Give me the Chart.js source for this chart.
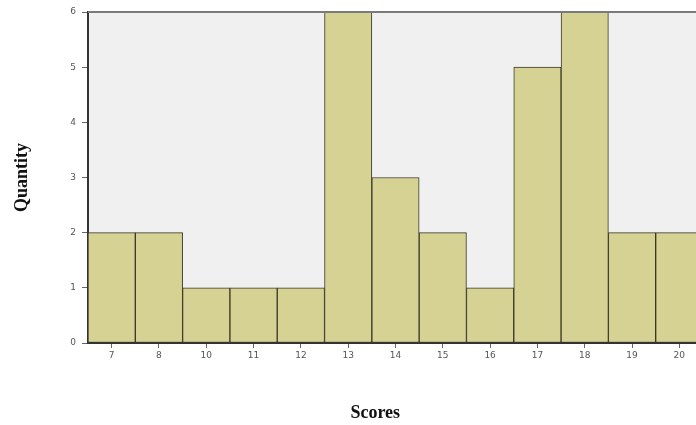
<!DOCTYPE html>
<html>
<head>
<meta charset="utf-8">
<script src="https://cdn.jsdelivr.net/npm/chart.js@4"></script>
<style>
html,body{margin:0;padding:0;background:#fff;overflow:hidden;width:696px;height:425px;}
#wrap{width:704px;height:425px;}
</style>
</head>
<body>
<div id="wrap"><canvas id="c" width="704" height="425"></canvas></div>
<script>
const categories = ["7","8","10","11","12","13","14","15","16","17","18","19","20"];
const quantities = [2,2,1,1,1,6,3,2,1,5,6,2,2];
const yTicks = [0,1,2,3,4,5,6];
const xTitle = 'Scores';
const yTitle = 'Quantity';

const plotBg = {
  id: 'plotBg',
  beforeDraw(chart) {
    const {ctx, chartArea:a} = chart;
    ctx.save();
    ctx.fillStyle = '#f0f0f0';
    ctx.fillRect(a.left, a.top, a.right - a.left, a.bottom - a.top);
    ctx.restore();
  },
  afterDraw(chart) {
    const {ctx, chartArea:a} = chart;
    ctx.save();
    ctx.strokeStyle = '#7a7a7a';
    ctx.lineWidth = 2;
    ctx.beginPath();
    ctx.moveTo(a.left, a.top);
    ctx.lineTo(chart.width, a.top);
    ctx.stroke();
    // x-axis title, placed slightly left of centre as in the reference
    ctx.fillStyle = '#111';
    ctx.font = 'bold 18px "Liberation Serif"';
    ctx.textAlign = 'center';
    ctx.textBaseline = 'middle';
    ctx.fillText(xTitle, a.left + 0.467 * (a.right - a.left), 413);
    ctx.restore();
  }
};

new Chart(document.getElementById('c'), {
  type: 'bar',
  data: {
    labels: categories,
    datasets: [{
      data: quantities,
      backgroundColor: '#d6d294',
      borderColor: '#3a3826',
      borderWidth: 1,
      borderSkipped: false,
      barPercentage: 1,
      categoryPercentage: 1
    }]
  },
  plugins: [plotBg],
  options: {
    responsive: false,
    animation: false,
    layout: {padding: {top: 12, right: 1, left: 0, bottom: 0}},
    plugins: {legend: {display: false}, tooltip: {enabled: false}},
    scales: {
      x: {
        offset: true,
        afterFit(s) { s.height = 82; },
        grid: {display: true, drawOnChartArea: false, drawTicks: true, tickLength: 5, offset: false, color: '#666', lineWidth: 1},
        border: {display: true, color: '#333', width: 2},
        ticks: {color: '#555', font: {family: 'DejaVu Sans', size: 9}, padding: 2, maxRotation: 0, autoSkip: false},
        title: {display: false, text: xTitle}
      },
      y: {
        min: 0, max: 6,
        afterFit(s) { s.width = 88; },
        afterBuildTicks(s) { s.ticks = yTicks.map(v => ({value: v})); },
        grid: {display: true, drawOnChartArea: false, drawTicks: true, tickLength: 6, color: '#666', lineWidth: 1},
        border: {display: true, color: '#333', width: 2},
        ticks: {color: '#555', font: {family: 'DejaVu Sans', size: 9}, padding: 6},
        title: {display: true, text: yTitle, color: '#111', font: {family: 'Liberation Serif', size: 18, weight: 'bold'}, padding: {top: 12, bottom: 0}}
      }
    }
  }
});
</script>
</body>
</html>
